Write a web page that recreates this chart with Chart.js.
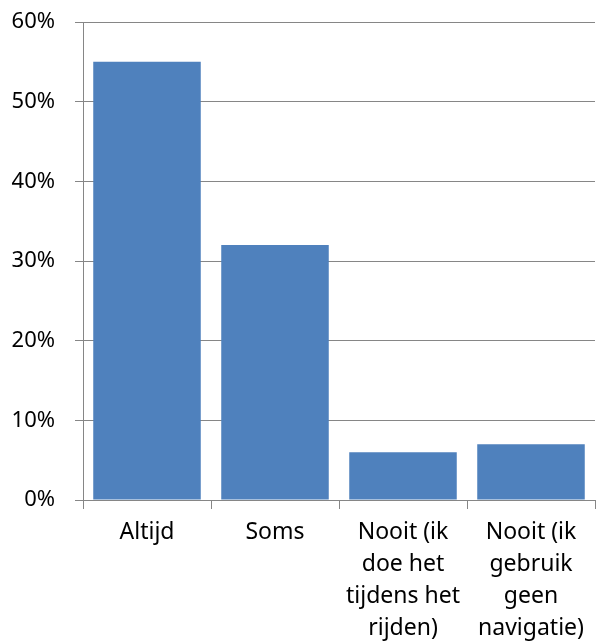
<!DOCTYPE html>
<html>
<head>
<meta charset="utf-8">
<script src="https://cdn.jsdelivr.net/npm/chart.js@4/dist/chart.umd.min.js"></script>
<style>
  html, body { margin: 0; padding: 0; background: #fff; }
  #wrap { width: 596px; height: 643px; }
</style>
</head>
<body>
<div id="wrap"><canvas id="navChart"></canvas></div>
<script>
const categories = [
  'Altijd',
  'Soms',
  ['Nooit (ik', 'doe het', 'tijdens het', 'rijden)'],
  ['Nooit (ik', 'gebruik', 'geen', 'navigatie)']
];
const percentages = [55, 32, 6, 7];
const yTicks = [0, 10, 20, 30, 40, 50, 60];

const gridColor = '#868686';
const labelFont = 'Noto Sans';

let ctx = document.getElementById('navChart').getContext('2d');
let navChart = new Chart(ctx, {
  type: 'bar',
  data: {
    labels: categories,
    datasets: [{
      data: percentages,
      backgroundColor: '#4F81BD',
      borderWidth: 0,
      barPercentage: 0.84,
      categoryPercentage: 1
    }]
  },
  options: {
    responsive: true,
    maintainAspectRatio: false,
    animation: false,
    layout: { padding: { top: 22, right: 1, left: 0, bottom: 0 } },
    plugins: { legend: { display: false }, tooltip: { enabled: false } },
    scales: {
      y: {
        min: 0,
        max: 60,
        afterBuildTicks: axis => { axis.ticks = yTicks.map(v => ({ value: v })); },
        afterFit: axis => { axis.width = 83; axis.paddingTop = 0; axis.paddingBottom = 0; },
        ticks: {
          padding: 20,
          color: '#000',
          font: { family: labelFont, size: 22 },
          callback: v => v + '%'
        },
        grid: { color: gridColor, lineWidth: 1, tickLength: 8 },
        border: { color: gridColor, width: 1 }
      },
      x: {
        afterFit: axis => { axis.height = 143; axis.paddingTop = 0; axis.paddingBottom = 0; },
        ticks: {
          padding: 7,
          color: '#000',
          maxRotation: 0,
          autoSkip: false,
          font: { family: labelFont, size: 23, lineHeight: 32 / 23 }
        },
        grid: { display: true, drawOnChartArea: false, offset: true, color: gridColor, tickLength: 9 },
        border: { color: gridColor, width: 1 }
      }
    }
  }
});
</script>
</body>
</html>
